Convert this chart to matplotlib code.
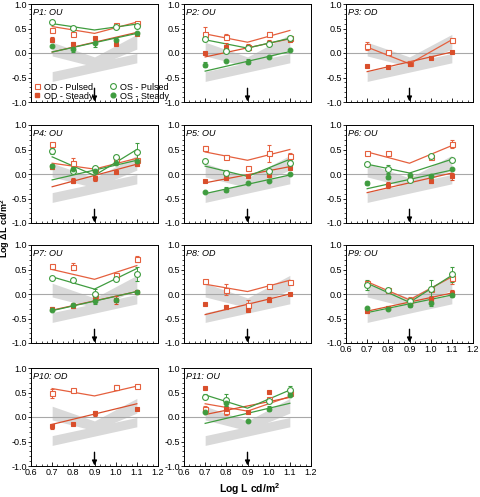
import numpy as np
import matplotlib
matplotlib.use("Agg")
from matplotlib import pyplot as plt
from matplotlib.ticker import MultipleLocator, FormatStrFormatter
from matplotlib.lines import Line2D

plt.rcParams["font.family"] = ["Liberation Sans", "DejaVu Sans"]
plt.rcParams["mathtext.fontset"] = "custom"
plt.rcParams["mathtext.rm"] = "Liberation Sans"
plt.rcParams["mathtext.bf"] = "Liberation Sans:bold"

nan = np.nan

# luminance levels (log cd/m2)
lum = [0.7, 0.8, 0.9, 1.0, 1.1]
lum_v = [0.7, 0.9, 1.1]   # nodes of pulsed fit (bilinear)
lum_s = [0.7, 1.1]        # nodes of steady fit (linear)

# normal range, grey bands
band_v_lo = [-0.06, -0.28, 0.08]
band_v_hi = [0.22, -0.08, 0.38]
band_s_lo = [-0.58, -0.2]
band_s_hi = [-0.38, -0.01]

# ---- P1
p1_odp = [0.47, 0.39, nan, 0.58, 0.61]
p1_osp = [0.63, 0.51, nan, 0.53, 0.56]
p1_ods = [0.27, 0.18, 0.30, 0.18, 0.39]
p1_oss = [0.14, 0.08, 0.20, 0.27, 0.41]
p1_ods_err = [0.05, 0.05, nan, nan, 0.03]
p1_oss_err = [nan, 0.06, 0.07, nan, nan]
p1_odp_fit = [0.54, 0.40, 0.63]
p1_osp_fit = [0.60, 0.47, 0.59]
p1_ods_fit = [0.02, 0.42]
p1_oss_fit = [0.02, 0.40]

# ---- P2
p2_odp = [0.39, 0.33, 0.12, 0.39, 0.31]
p2_osp = [0.29, 0.05, 0.10, 0.19, 0.31]
p2_ods = [0.00, 0.12, 0.13, 0.20, 0.26]
p2_oss = [-0.24, -0.16, -0.18, -0.09, 0.06]
p2_odp_err = [0.15, 0.05, 0.04, 0.04, 0.03]
p2_ods_err = [nan, 0.08, 0.06, 0.06, nan]
p2_oss_err = [0.05, nan, 0.05, nan, nan]
p2_odp_fit = [0.39, 0.22, 0.46]
p2_osp_fit = [0.27, 0.10, 0.30]
p2_ods_fit = [-0.08, 0.29]
p2_oss_fit = [-0.37, 0.03]

# ---- P3 (OD only)
p3_odp = [0.15, 0.03, -0.20, nan, 0.27]
p3_ods = [-0.26, -0.28, -0.22, -0.10, 0.02]
p3_odp_err = [0.08, nan, 0.04, nan, nan]
p3_odp_fit = [0.12, -0.22, 0.27]
p3_ods_fit = [-0.38, 0.02]

# ---- P4
p4_odp = [0.62, 0.23, 0.10, 0.30, 0.28]
p4_osp = [0.47, 0.07, 0.12, 0.34, 0.44]
p4_ods = [0.15, -0.14, -0.09, 0.05, 0.20]
p4_oss = [0.16, 0.10, 0.06, 0.23, 0.27]
p4_odp_err = [nan, 0.10, nan, nan, nan]
p4_osp_err = [0.06, nan, nan, 0.05, 0.20]
p4_ods_err = [nan, 0.05, 0.05, nan, 0.03]
p4_oss_err = [0.05, 0.05, nan, nan, 0.03]
p4_odp_fit = [0.22, 0.10, 0.32]
p4_osp_fit = [0.35, -0.03, 0.50]
p4_ods_fit = [-0.26, 0.20]
p4_oss_fit = [-0.12, 0.28]

# ---- P5
p5_odp = [0.54, 0.35, 0.12, 0.42, 0.37]
p5_osp = [0.26, 0.03, nan, 0.06, 0.23]
p5_ods = [-0.14, -0.09, -0.04, -0.02, 0.12]
p5_oss = [-0.36, -0.32, -0.19, -0.14, -0.01]
p5_odp_err = [0.03, 0.04, 0.03, 0.18, 0.05]
p5_osp_err = [nan, 0.05, nan, nan, 0.05]
p5_oss_err = [nan, 0.05, nan, nan, nan]
p5_odp_fit = [0.45, 0.28, 0.50]
p5_osp_fit = [0.16, -0.05, 0.30]
p5_ods_fit = [-0.18, 0.15]
p5_oss_fit = [-0.40, -0.02]

# ---- P6
p6_odp = [0.43, 0.43, nan, 0.35, 0.62]
p6_osp = [0.20, 0.10, -0.12, 0.37, 0.28]
p6_ods = [nan, -0.22, -0.07, -0.14, -0.05]
p6_oss = [-0.18, -0.06, -0.02, -0.04, 0.10]
p6_odp_err = [nan, nan, nan, nan, 0.08]
p6_osp_err = [nan, 0.08, 0.05, nan, nan]
p6_ods_err = [nan, 0.06, 0.05, 0.05, 0.08]
p6_oss_err = [0.04, 0.05, nan, nan, nan]
p6_odp_fit = [0.45, 0.22, 0.58]
p6_osp_fit = [0.20, 0.02, 0.30]
p6_ods_fit = [-0.38, 0.02]
p6_oss_fit = [-0.30, 0.08]

# ---- P7
p7_odp = [0.58, 0.56, -0.03, 0.39, 0.71]
p7_osp = [0.33, 0.28, -0.01, 0.31, 0.41]
p7_ods = [-0.30, -0.24, -0.08, -0.12, 0.04]
p7_oss = [-0.32, -0.22, -0.15, -0.12, 0.04]
p7_odp_err = [nan, 0.08, 0.05, 0.04, 0.06]
p7_osp_err = [nan, nan, 0.12, nan, 0.15]
p7_ods_err = [0.03, 0.05, 0.06, 0.08, nan]
p7_oss_err = [nan, nan, 0.05, nan, nan]
p7_odp_fit = [0.50, 0.30, 0.58]
p7_osp_fit = [0.35, 0.10, 0.52]
p7_ods_fit = [-0.33, 0.05]
p7_oss_fit = [-0.34, 0.05]

# ---- P8 (OD only)
p8_odp = [0.27, 0.09, -0.23, 0.17, 0.25]
p8_ods = [-0.20, -0.27, -0.32, -0.12, 0.00]
p8_odp_err = [nan, 0.12, 0.10, nan, nan]
p8_ods_err = [nan, 0.04, 0.03, 0.05, nan]
p8_odp_fit = [0.20, 0.05, 0.28]
p8_ods_fit = [-0.42, 0.00]

# ---- P9
p9_odp = [0.23, 0.08, -0.12, 0.10, 0.32]
p9_osp = [0.18, 0.08, -0.15, 0.10, 0.40]
p9_ods = [-0.35, -0.28, -0.20, -0.10, 0.03]
p9_oss = [-0.28, -0.30, -0.22, -0.18, -0.02]
p9_odp_err = [0.04, nan, 0.05, 0.05, 0.12]
p9_osp_err = [0.10, nan, 0.05, 0.18, 0.15]
p9_ods_err = [0.04, 0.04, 0.05, 0.06, 0.05]
p9_oss_err = [nan, nan, 0.05, 0.06, 0.05]
p9_odp_fit = [0.25, -0.12, 0.35]
p9_osp_fit = [0.22, -0.17, 0.38]
p9_ods_fit = [-0.35, 0.02]
p9_oss_fit = [-0.38, -0.02]

# ---- P10 (OD only)
p10_odp = [0.48, 0.56, nan, 0.61, 0.63]
p10_ods = [-0.19, -0.14, 0.08, nan, 0.16]
p10_odp_err = [0.10, nan, nan, 0.05, nan]
p10_ods_err = [0.05, nan, 0.05, nan, nan]
p10_odp_fit = [0.58, 0.43, 0.63]
p10_ods_fit = [-0.15, 0.27]

# ---- P11
p11_odp = [0.17, 0.12, nan, 0.36, 0.49]
p11_osp = [0.41, 0.34, nan, 0.33, 0.56]
p11_ods = [0.60, 0.17, 0.10, 0.51, 0.46]
p11_oss = [0.10, 0.29, -0.08, 0.17, 0.44]
p11_odp_err = [0.05, 0.08, nan, nan, 0.03]
p11_osp_err = [0.05, 0.12, nan, 0.05, 0.08]
p11_oss_err = [nan, 0.06, nan, 0.05, nan]
p11_odp_fit = [0.27, 0.12, 0.42]
p11_osp_fit = [0.45, 0.18, 0.55]
p11_ods_fit = [0.05, 0.40]
p11_oss_fit = [-0.13, 0.28]

red = "#e5603e"
red_s = "#d94f2c"
green = "#3f9c3f"

# (title, od pulsed, od steady, os pulsed, os steady) each as (values, err, fit)
panels = [
    ("P1: OU", (p1_odp, None, p1_odp_fit), (p1_ods, p1_ods_err, p1_ods_fit),
     (p1_osp, None, p1_osp_fit), (p1_oss, p1_oss_err, p1_oss_fit)),
    ("P2: OU", (p2_odp, p2_odp_err, p2_odp_fit), (p2_ods, p2_ods_err, p2_ods_fit),
     (p2_osp, None, p2_osp_fit), (p2_oss, p2_oss_err, p2_oss_fit)),
    ("P3: OD", (p3_odp, p3_odp_err, p3_odp_fit), (p3_ods, None, p3_ods_fit), None, None),
    ("P4: OU", (p4_odp, p4_odp_err, p4_odp_fit), (p4_ods, p4_ods_err, p4_ods_fit),
     (p4_osp, p4_osp_err, p4_osp_fit), (p4_oss, p4_oss_err, p4_oss_fit)),
    ("P5: OU", (p5_odp, p5_odp_err, p5_odp_fit), (p5_ods, None, p5_ods_fit),
     (p5_osp, p5_osp_err, p5_osp_fit), (p5_oss, p5_oss_err, p5_oss_fit)),
    ("P6: OU", (p6_odp, p6_odp_err, p6_odp_fit), (p6_ods, p6_ods_err, p6_ods_fit),
     (p6_osp, p6_osp_err, p6_osp_fit), (p6_oss, p6_oss_err, p6_oss_fit)),
    ("P7: OU", (p7_odp, p7_odp_err, p7_odp_fit), (p7_ods, p7_ods_err, p7_ods_fit),
     (p7_osp, p7_osp_err, p7_osp_fit), (p7_oss, p7_oss_err, p7_oss_fit)),
    ("P8: OD", (p8_odp, p8_odp_err, p8_odp_fit), (p8_ods, p8_ods_err, p8_ods_fit), None, None),
    ("P9: OU", (p9_odp, p9_odp_err, p9_odp_fit), (p9_ods, p9_ods_err, p9_ods_fit),
     (p9_osp, p9_osp_err, p9_osp_fit), (p9_oss, p9_oss_err, p9_oss_fit)),
    ("P10: OD", (p10_odp, p10_odp_err, p10_odp_fit), (p10_ods, p10_ods_err, p10_ods_fit), None, None),
    ("P11: OU", (p11_odp, p11_odp_err, p11_odp_fit), (p11_ods, None, p11_ods_fit),
     (p11_osp, p11_osp_err, p11_osp_fit), (p11_oss, p11_oss_err, p11_oss_fit)),
]

# marker style per series
styles = [
    dict(color=red, marker="s", mfc="white", ms=3.6, fitx=lum_v),
    dict(color=red_s, marker="s", mfc=red_s, ms=3.0, fitx=lum_s),
    dict(color=green, marker="o", mfc="white", ms=4.2, fitx=lum_v),
    dict(color=green, marker="o", mfc=green, ms=3.4, fitx=lum_s),
]

W, H = 480, 497
col_left = [31, 184, 346]
row_top = [4, 125, 245, 368]
ax_w, ax_h = 127, 98

fig = plt.figure(figsize=(W / 100, H / 100), dpi=100)

for i, panel in enumerate(panels):
    r, c = divmod(i, 3)
    if i == 10:
        c = 1
    if i == 9:
        c = 0
    left = col_left[c] / W
    bottom = 1 - (row_top[r] + ax_h) / H
    ax = fig.add_axes([left, bottom, ax_w / W, ax_h / H])

    # grey normal range
    ax.fill_between(lum_v, band_v_lo, band_v_hi, color="#d9d9d9", lw=0, zorder=0)
    ax.fill_between(lum_s, band_s_lo, band_s_hi, color="#d9d9d9", lw=0, zorder=0)
    ax.axhline(0, color="#a8a8a8", lw=0.8, zorder=1)

    for series, st in zip(panel[1:], styles):
        if series is None:
            continue
        vals, err, fit = series
        ax.plot(st["fitx"], fit, color=st["color"], lw=0.9, zorder=2)
        ax.errorbar(lum, vals, yerr=err, fmt=st["marker"], color=st["color"],
                    mfc=st["mfc"], mec=st["color"], ms=st["ms"], mew=0.8,
                    elinewidth=0.7, capsize=1.5, capthick=0.7, zorder=3)

    ax.annotate("", xy=(0.9, -0.99), xytext=(0.9, -0.72),
                arrowprops=dict(arrowstyle="-|>", color="black", lw=1.0,
                                mutation_scale=7, shrinkA=0, shrinkB=0))

    ax.text(0.015, 0.96, panel[0], transform=ax.transAxes, ha="left", va="top",
            fontsize=6.5, style="italic")

    ax.set_xlim(0.6, 1.2)
    ax.set_ylim(-1.0, 1.0)
    ax.xaxis.set_major_locator(MultipleLocator(0.1))
    ax.xaxis.set_minor_locator(MultipleLocator(0.025))
    ax.yaxis.set_major_locator(MultipleLocator(0.5))
    ax.yaxis.set_minor_locator(MultipleLocator(0.1))
    ax.tick_params(axis="x", which="both", direction="in", labelsize=6.5, pad=1.5)
    ax.tick_params(axis="x", which="major", length=3, width=0.6)
    ax.tick_params(axis="x", which="minor", length=1.5, width=0.5)
    ax.tick_params(axis="y", which="both", direction="out", labelsize=6.5, pad=0.5)
    ax.tick_params(axis="y", which="major", length=2.5, width=0.6)
    ax.tick_params(axis="y", which="minor", length=1.2, width=0.5)
    ax.yaxis.set_major_formatter(FormatStrFormatter("%.1f"))
    ax.xaxis.set_major_formatter(FormatStrFormatter("%.1f"))
    if i not in (8, 9, 10):
        ax.tick_params(axis="x", labelbottom=False)
    for sp in ax.spines.values():
        sp.set_linewidth(0.7)

    if i == 0:
        handles = [
            Line2D([], [], ls="none", marker="s", color=red, mfc="white", ms=3.6, mew=0.8),
            Line2D([], [], ls="none", marker="s", color=red_s, mfc=red_s, ms=3.0),
            Line2D([], [], ls="none", marker="o", color=green, mfc="white", ms=4.2, mew=0.8),
            Line2D([], [], ls="none", marker="o", color=green, mfc=green, ms=3.4),
        ]
        labels = ["OD - Pulsed", "OD - Steady", "OS - Pulsed", "OS - Steady"]
        ax.legend(handles, labels, ncol=2, loc="lower left", frameon=False,
                  fontsize=6.5, handlelength=1.0, handletextpad=0.3,
                  columnspacing=1.6, labelspacing=0.0, borderpad=0.05,
                  borderaxespad=0.1)

fig.text(5.5 / W, 1 - 228 / H, "Log ΔL cd/m$^\\mathbf{2}$", rotation=90, ha="center",
         va="center", fontsize=6.5, fontweight="bold")
fig.text(250 / W, 1 - 489 / H, "Log L cd/m$^\\mathbf{2}$", ha="center", va="center",
         fontsize=7.5, fontweight="bold")

fig.savefig("out.png", dpi=100)
